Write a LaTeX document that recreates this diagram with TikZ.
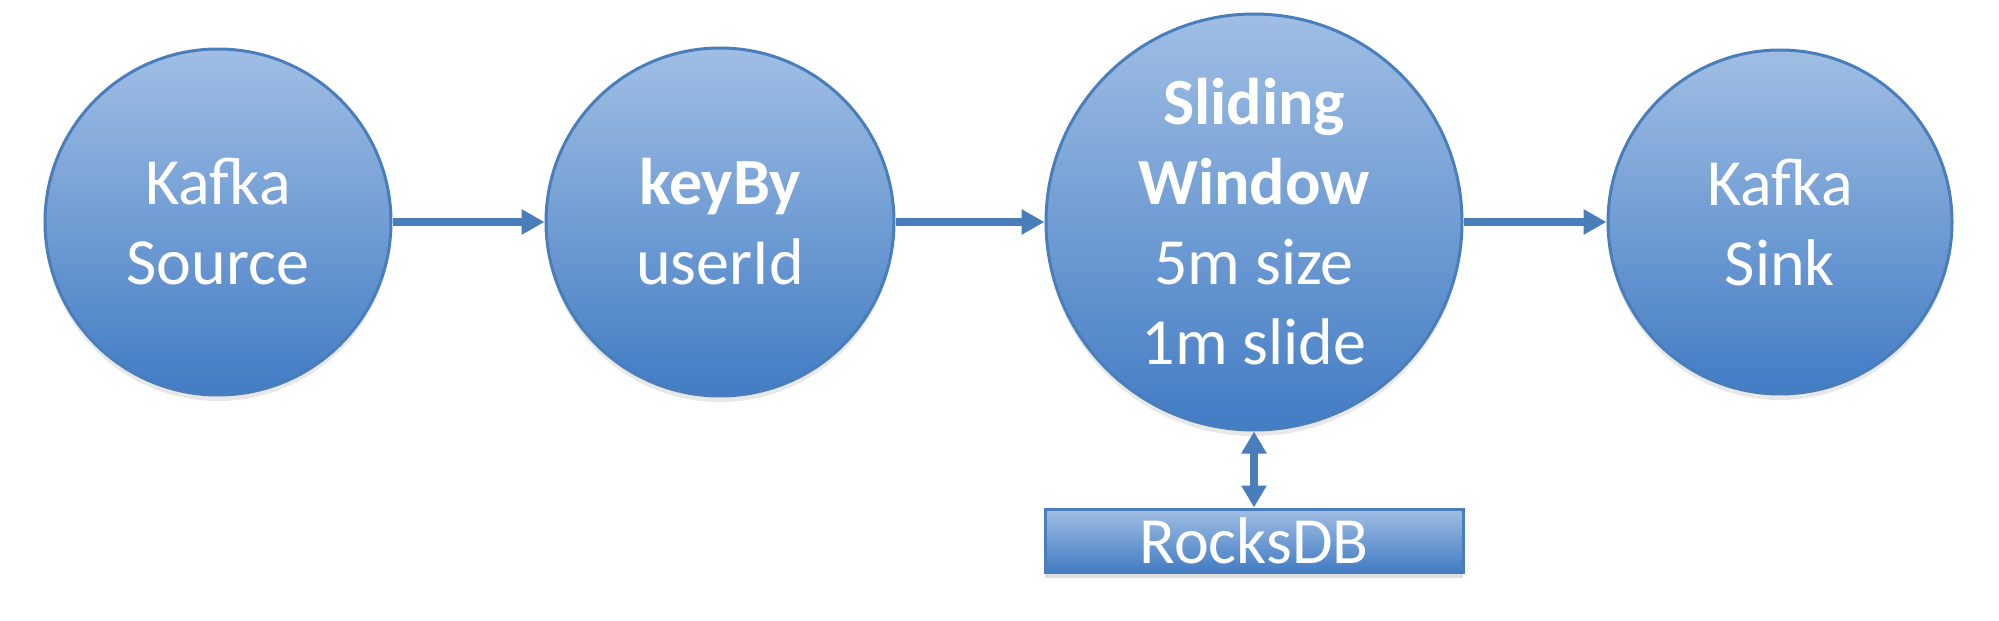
\documentclass[tikz,border=0pt]{standalone}
\usepackage{fontspec}
\setmainfont{Carlito}
\usepackage{tikz}
\usepackage{xcolor}
\usetikzlibrary{arrows.meta,shadows}

\definecolor{opedge}{RGB}{74,126,187}
\definecolor{optop}{RGB}{160,190,228}
\definecolor{opbottom}{RGB}{66,124,196}

\tikzset{
  opcircle/.style={circle, draw=opedge, line width=1.5pt, top color=optop, bottom color=opbottom,
    text=white, align=center, font=\fontsize{33}{40}\selectfont, inner sep=0pt,
    drop shadow={opacity=0.18, shadow xshift=0pt, shadow yshift=-3pt}},
  statebox/.style={rectangle, draw=opedge, line width=1.5pt, top color=optop, bottom color=opbottom,
    text=white, font=\fontsize{33}{38}\selectfont, inner sep=0pt,
    minimum width=209pt, minimum height=31.5pt,
    drop shadow={opacity=0.25, shadow xshift=0pt, shadow yshift=-3pt}},
  flow/.style={line width=4pt, draw=opedge, -{Triangle[length=11.5pt,width=12pt]}},
  biflow/.style={line width=4pt, draw=opedge, {Triangle[length=11pt,width=12pt]}-{Triangle[length=11pt,width=12pt]}}
}

\begin{document}
\begin{tikzpicture}[x=0.5pt, y=-0.5pt]
      \useasboundingbox (0, 0) rectangle (1999, 621);
      \node[opcircle, minimum size=173pt] (source) at (218, 222) {Kafka\\Source};
      \node[opcircle, minimum size=174pt] (keyby) at (720, 222) {\textbf{keyBy}\\userId};
      \node[opcircle, minimum size=208pt] (window) at (1254, 222) {\textbf{Sliding}\\\textbf{Window}\\5m size\\1m slide};
      \node[opcircle, minimum size=172pt] (sink) at (1780, 222) {Kafka\\Sink};
      \node[statebox] (rocksdb) at (1254, 540.5) {RocksDB};
      \draw[flow] (source) -- (keyby);
      \draw[flow] (keyby) -- (window);
      \draw[flow] (window) -- (sink);
      \draw[biflow] (window) -- (rocksdb);
    \end{tikzpicture}
\end{document}
